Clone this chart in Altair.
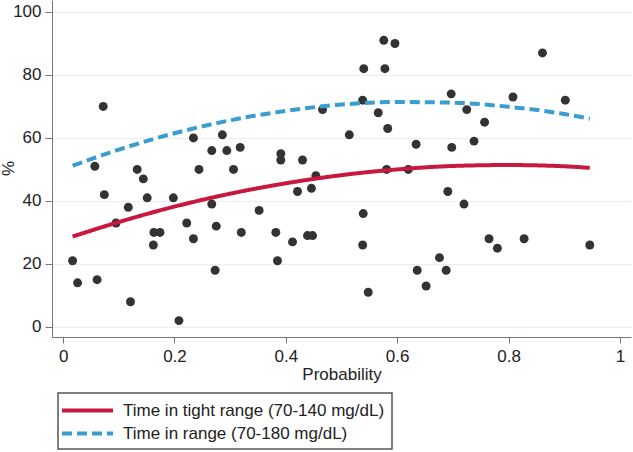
import altair as alt
import pandas as pd

# Scatter points (probability, %)
prob = [0.017, 0.026, 0.072, 0.057, 0.074, 0.061, 0.095, 0.117, 0.121, 0.133,
        0.144, 0.151, 0.162, 0.163, 0.174, 0.198, 0.208, 0.222, 0.234, 0.234,
        0.244, 0.267, 0.267, 0.273, 0.275, 0.286, 0.294, 0.318, 0.306, 0.320,
        0.352, 0.382, 0.385, 0.391, 0.391, 0.412, 0.421, 0.430, 0.439, 0.448,
        0.446, 0.454, 0.466, 0.514, 0.538, 0.540, 0.539, 0.538, 0.548, 0.566,
        0.576, 0.596, 0.578, 0.583, 0.581, 0.620, 0.634, 0.636, 0.652, 0.676,
        0.688, 0.691, 0.697, 0.698, 0.720, 0.725, 0.738, 0.757, 0.765, 0.780,
        0.808, 0.828, 0.861, 0.902, 0.946]
pct = [21, 14, 70, 51, 42, 15, 33, 38, 8, 50,
       47, 41, 26, 30, 30, 41, 2, 33, 60, 28,
       50, 56, 39, 18, 32, 61, 56, 57, 50, 30,
       37, 30, 21, 55, 53, 27, 43, 53, 29, 29,
       44, 48, 69, 61, 72, 82, 36, 26, 11, 68,
       91, 90, 82, 63, 50, 50, 58, 18, 13, 22,
       18, 43, 74, 57, 39, 69, 59, 65, 28, 25,
       73, 28, 87, 72, 26]

# Fitted curves
curve_p = [0.017, 0.1, 0.2, 0.3, 0.4, 0.5, 0.6, 0.7, 0.8, 0.9, 0.946]
tight_vals = [28.7, 33.3, 38.2, 42.3, 45.6, 48.2, 50.0, 51.1, 51.4, 51.0, 50.5]
range_vals = [51.2, 56.3, 61.5, 65.6, 68.6, 70.6, 71.4, 71.2, 69.9, 67.6, 66.1]

series_names = ["Time in tight range (70-140 mg/dL)", "Time in range (70-180 mg/dL)"]
series_colors = ["#c8183f", "#3a9dcf"]

pts = pd.DataFrame({"Probability": prob, "pct": pct})
curves = pd.DataFrame({
    "Probability": curve_p + curve_p,
    "value": tight_vals + range_vals,
    "series": [series_names[0]] * len(curve_p) + [series_names[1]] * len(curve_p),
})

xscale = alt.Scale(domain=[-0.02, 1.02], nice=False, zero=False)
yscale = alt.Scale(domain=[-3.2, 103.8], nice=False, zero=False)

xaxis = alt.Axis(values=[0, 0.2, 0.4, 0.6, 0.8, 1], format="~g", title="Probability",
                 grid=False, tickSize=6, labelPadding=5, titlePadding=2)
yaxis = alt.Axis(values=[0, 20, 40, 60, 80, 100], title="%", grid=True,
                 gridColor="#e6f0f0", tickSize=7, labelPadding=4,
                 titleX=-44, titleY=168, titleAngle=270, titleBaseline="middle",
                 titleAlign="center")

# blank spacer title to the right of the entries widens the legend box
legend = alt.Legend(
    title="\u00a0" * 50, titleOrient="right", titlePadding=0, titleFontSize=17,
    orient="none", legendX=6, legendY=393,
    strokeColor="#555555", fillColor="white", padding=7, cornerRadius=0,
    symbolType="M-3,0H3", symbolSize=289, symbolStrokeWidth=4, symbolOffset=12,
    labelFontSize=17, labelLimit=900, labelOffset=25, rowPadding=4,
)

points = alt.Chart(pts).mark_circle(size=80, color="#333333", opacity=1).encode(
    x=alt.X("Probability:Q", scale=xscale, axis=xaxis),
    y=alt.Y("pct:Q", scale=yscale, axis=yaxis),
)

lines = alt.Chart(curves).mark_line(strokeWidth=4, interpolate="monotone").encode(
    x=alt.X("Probability:Q", scale=xscale),
    y=alt.Y("value:Q", scale=yscale),
    color=alt.Color("series:N", scale=alt.Scale(domain=series_names, range=series_colors),
                    legend=legend),
    strokeDash=alt.StrokeDash("series:N", scale=alt.Scale(domain=series_names,
                                                          range=[[1, 0], [10, 5]]),
                              legend=legend),
)

chart = alt.layer(points, lines).properties(
    width=579, height=337,
    autosize=alt.AutoSizeParams(type="none"),
    padding={"left": 52, "top": 0, "right": 2, "bottom": 115},
    background="white",
).configure_view(stroke=None).configure_axis(
    labelFont="Liberation Sans", titleFont="Liberation Sans",
    labelFontSize=17, titleFontSize=17, titleFontWeight="normal",
    labelColor="#222222", titleColor="#222222",
    domainColor="#777777", tickColor="#777777",
).configure_legend(labelFont="Liberation Sans", titleFont="Liberation Sans",
                   labelColor="#222222", strokeWidth=1.5)

chart.save("out.html", embed_options={"renderer": "svg", "actions": False})
